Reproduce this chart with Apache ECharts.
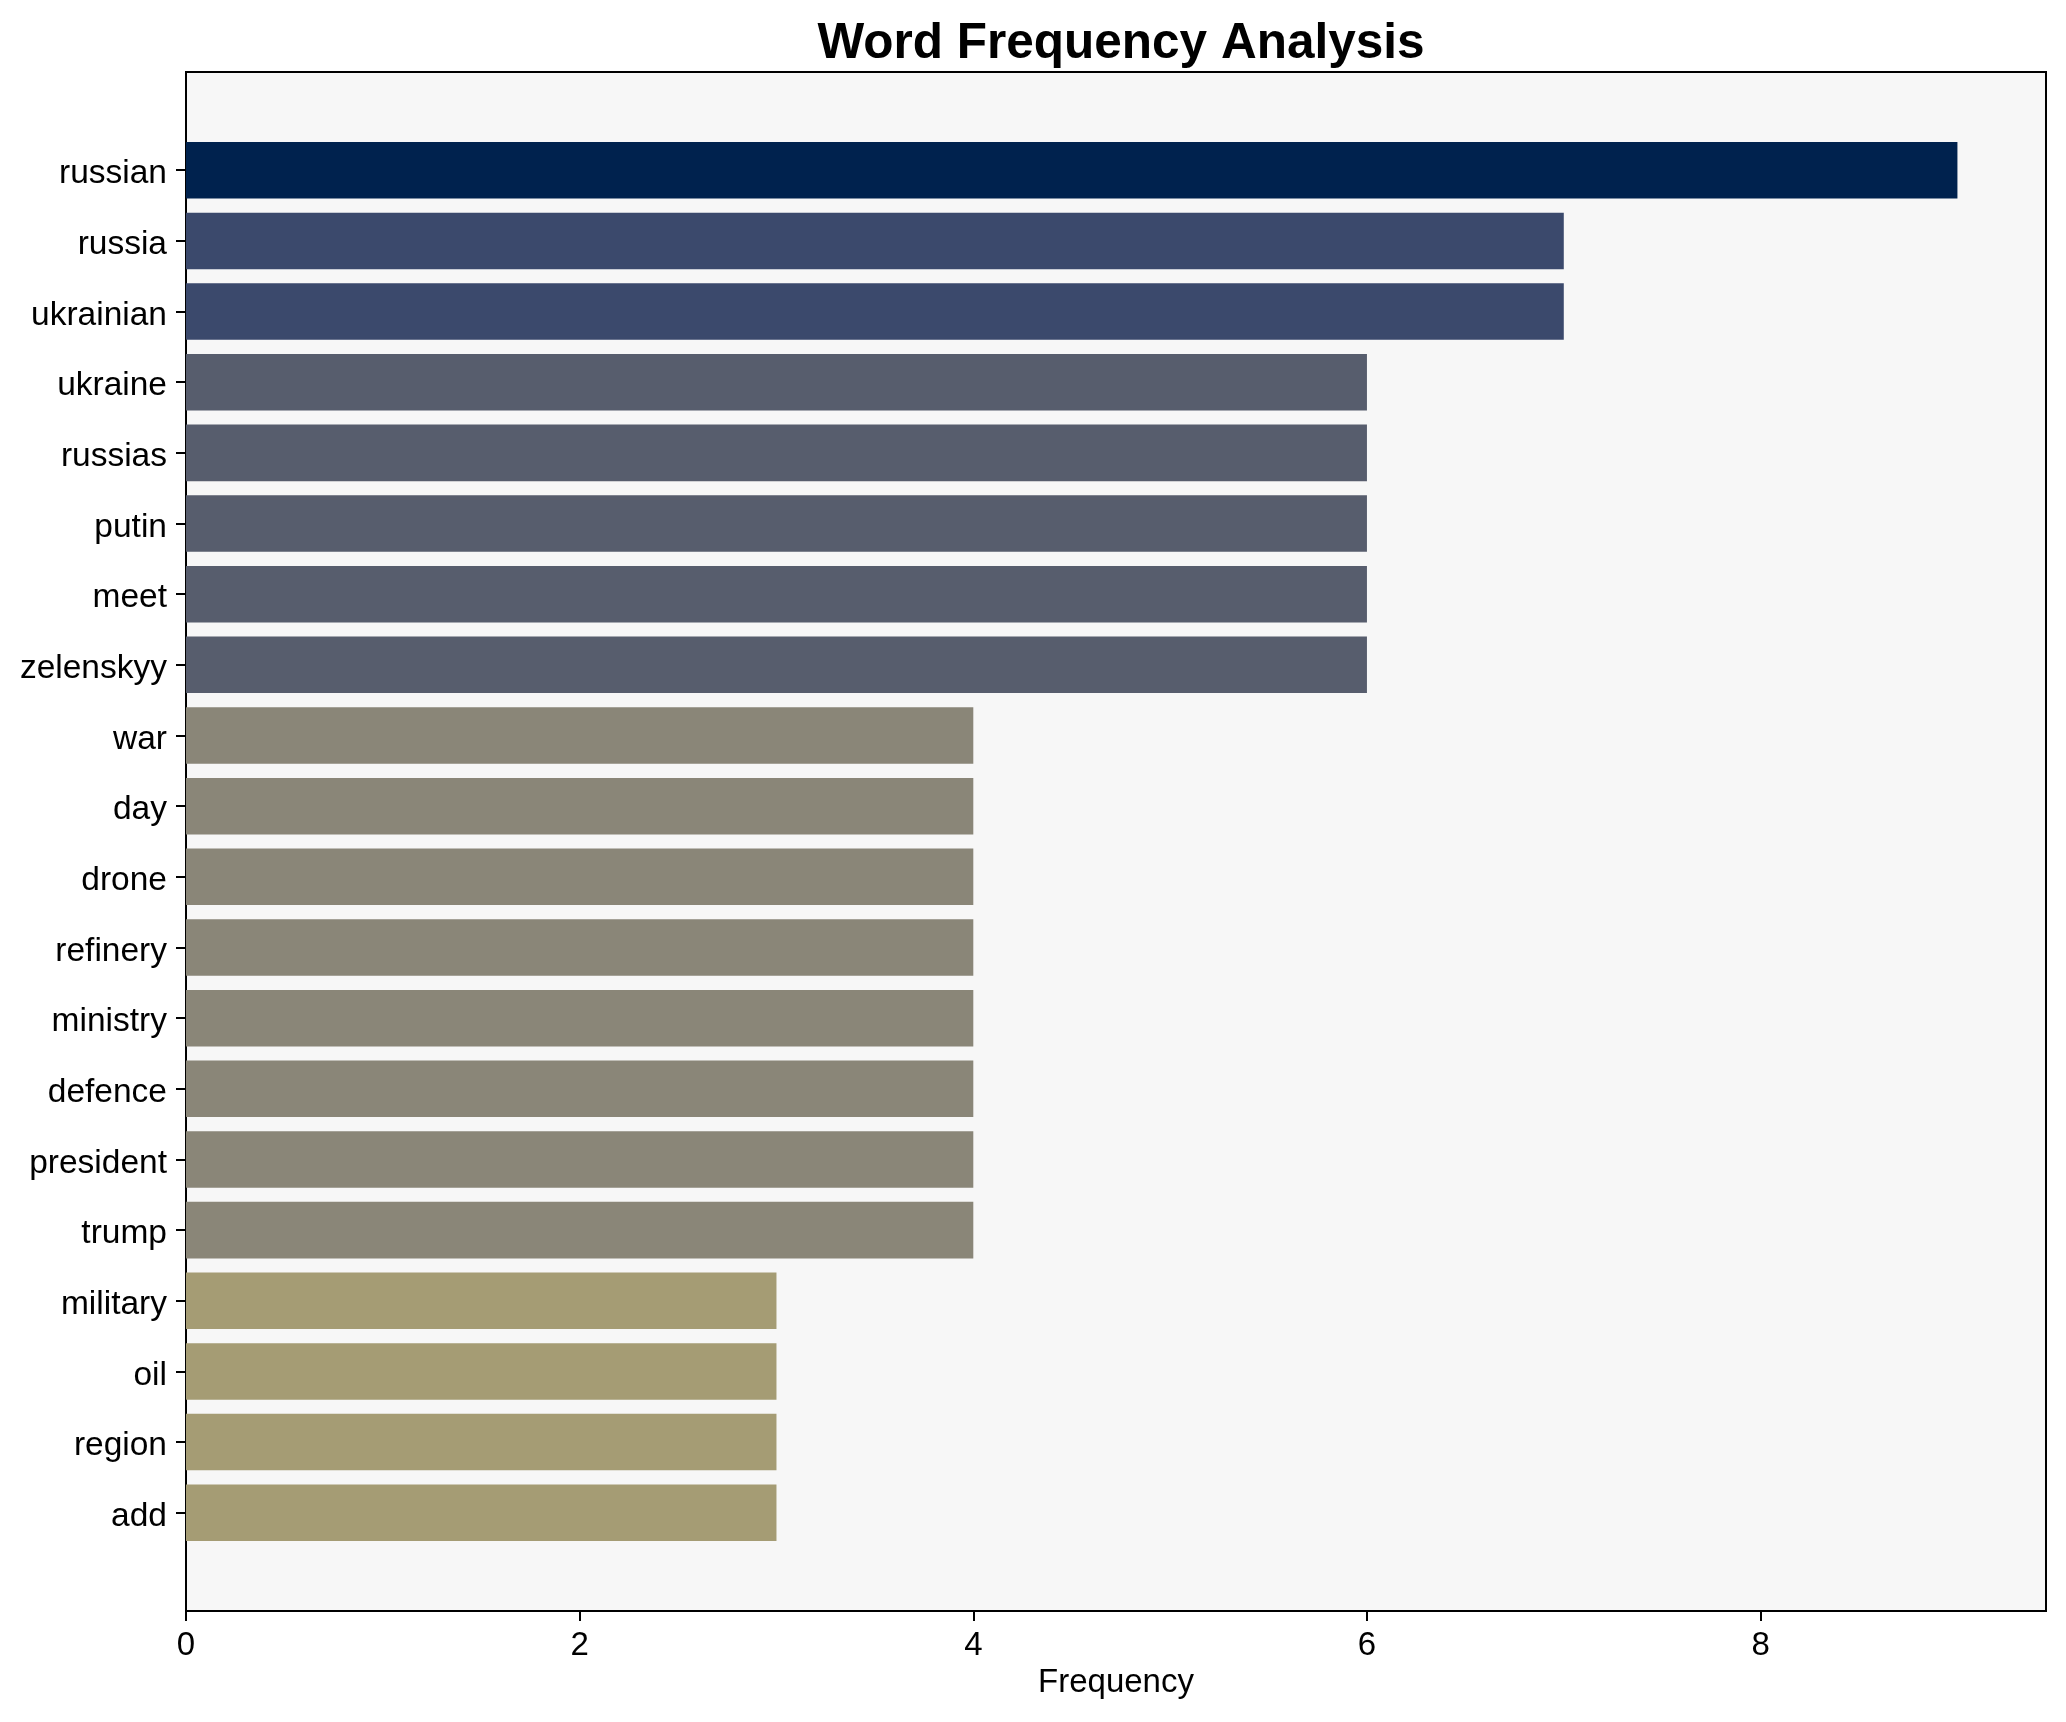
<!DOCTYPE html>
<html>
<head>
<meta charset="utf-8">
<script src="https://cdn.jsdelivr.net/npm/echarts@6/dist/echarts.min.js"></script>
<style>
  html, body { margin: 0; padding: 0; background: #ffffff; }
  #chart { width: 2066px; height: 1722px; }
</style>
</head>
<body>
<div id="chart"></div>
<script>
// ---- Data ----
const words = ["russian", "russia", "ukrainian", "ukraine", "russias", "putin", "meet", "zelenskyy",
  "war", "day", "drone", "refinery", "ministry", "defence", "president", "trump",
  "military", "oil", "region", "add"];
const frequencies = [9, 7, 7, 6, 6, 6, 6, 6, 4, 4, 4, 4, 4, 4, 4, 4, 3, 3, 3, 3];
const xTicks = [0, 2, 4, 6, 8];

// colour by frequency (cividis-like)
const colorByValue = { 9: "#00224e", 7: "#3b496c", 6: "#575d6d", 4: "#8a8678", 3: "#a59c74" };

const FONT = "'Liberation Sans', Arial, Helvetica, sans-serif";
const xMax = Math.max(...frequencies) * 1.05;

const chart = echarts.init(document.getElementById('chart'), null, { renderer: 'canvas' });

const option = {
  backgroundColor: '#ffffff',
  animation: false,
  title: {
    text: 'Word Frequency Analysis',
    left: 1116,
    textAlign: 'center',
    top: 14,
    textStyle: { fontFamily: FONT, fontSize: 49.5, fontWeight: 'bold', color: '#000' }
  },
  grid: [
    { left: 186, right: 20, top: 72, bottom: 111, show: true, backgroundColor: '#f7f7f7',
      borderColor: '#000', borderWidth: 2, containLabel: false },
    { left: 186, right: 20, top: 134.9, bottom: 173.9, show: false, containLabel: false }
  ],
  xAxis: [
    {
      gridIndex: 0, type: 'value', min: 0, max: xMax,
      name: 'Frequency', nameLocation: 'middle', nameGap: 55,
      nameTextStyle: { fontFamily: FONT, fontSize: 33, color: '#000' },
      axisLine: { show: false },
      splitLine: { show: false },
      axisTick: { show: true, length: 10, customValues: xTicks, lineStyle: { color: '#000', width: 2 } },
      axisLabel: { show: true, customValues: xTicks, fontFamily: FONT, fontSize: 33, color: '#000', margin: 18 }
    },
    {
      gridIndex: 1, type: 'value', min: 0, max: xMax, show: false,
      splitLine: { show: false }
    }
  ],
  yAxis: [
    { gridIndex: 0, type: 'value', min: 0, max: 1, show: false, splitLine: { show: false } },
    {
      gridIndex: 1, type: 'category', data: words, inverse: true,
      axisLine: { show: false },
      axisTick: { show: true, alignWithLabel: true, length: 10, lineStyle: { color: '#000', width: 2 } },
      axisLabel: {
        margin: 19,
        formatter: v => '{w|' + v + '}',
        rich: { w: { fontFamily: FONT, fontSize: 33.5, color: '#000', padding: [8, 0, 0, 0] } }
      },
      splitLine: { show: false }
    }
  ],
  series: [
    {
      type: 'bar',
      xAxisIndex: 1, yAxisIndex: 1,
      barWidth: '80%',
      data: frequencies.map(v => ({ value: v, itemStyle: { color: colorByValue[v] } }))
    }
  ]
};

chart.setOption(option);
</script>
</body>
</html>
